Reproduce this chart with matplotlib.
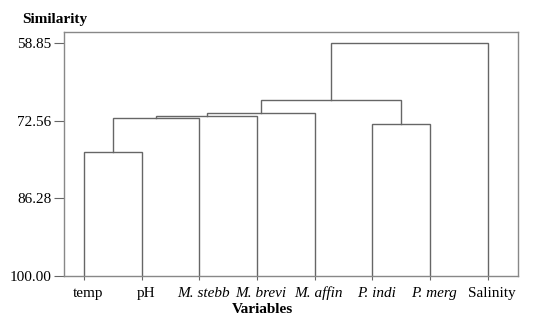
import matplotlib
matplotlib.use("Agg")
import matplotlib.pyplot as plt
from matplotlib.transforms import blended_transform_factory, ScaledTranslation

labels = ["temp", "pH", "M. stebb", "M. brevi", "M. affin", "P. indi", "P. merg", "Salinity"]
italic = [False, False, True, True, True, True, True, False]
# merges: (left node, right node, similarity); leaves 0..7, new clusters 8..
merges = [
    (0, 1, 78.13),
    (8, 2, 72.01),
    (9, 3, 71.76),
    (10, 4, 71.12),
    (5, 6, 73.07),
    (11, 12, 68.82),
    (13, 7, 58.85),
]
yticks = [58.85, 72.56, 86.28, 100.00]

plt.rcParams['font.family'] = ['Liberation Serif', 'DejaVu Serif']
fig = plt.figure(figsize=(5.46, 3.17), dpi=100)
ax = fig.add_axes([0.1172, 0.1293, 0.8315, 0.7697])

lc = "#666666"
pos = {i: float(i) for i in range(len(labels))}
hgt = {i: 100.0 for i in range(len(labels))}
for k, (a, b, s) in enumerate(merges):
    n = len(labels) + k
    xa, xb = pos[a], pos[b]
    ax.plot([xa, xa, xb, xb], [hgt[a], s, s, hgt[b]], color=lc, lw=1.0, solid_joinstyle='miter')
    pos[n] = (xa + xb) / 2
    hgt[n] = s

ax.set_ylim(100, 56.85)
ax.set_xlim(-0.347, 7.525)
ax.set_yticks(yticks)
ax.set_yticklabels([f"{v:.2f}" for v in yticks], fontsize=11)
ax.set_xticks(range(len(labels)))
ax.set_xticklabels([])
tr = blended_transform_factory(ax.transData, ax.transAxes) + ScaledTranslation(0.04, 0, fig.dpi_scale_trans)
for i, (lab, it) in enumerate(zip(labels, italic)):
    ax.text(i, -0.086, lab, transform=tr, ha='center', va='baseline', fontsize=11,
            style='italic' if it else 'normal')
ax.tick_params(axis='y', length=7, width=0.8, color=lc, pad=2)
ax.tick_params(axis='x', length=3, width=0.8, color=lc)
for sp in ax.spines.values():
    sp.set_color("#888888")
    sp.set_linewidth(1.0)

fig.text(0.04, 0.94, "Similarity", fontsize=11, fontweight='bold', ha='left', va='center')
fig.text(0.48, 0.025, "Variables", fontsize=11, fontweight='bold', ha='center', va='center')

fig.savefig("out.png", dpi=100)
